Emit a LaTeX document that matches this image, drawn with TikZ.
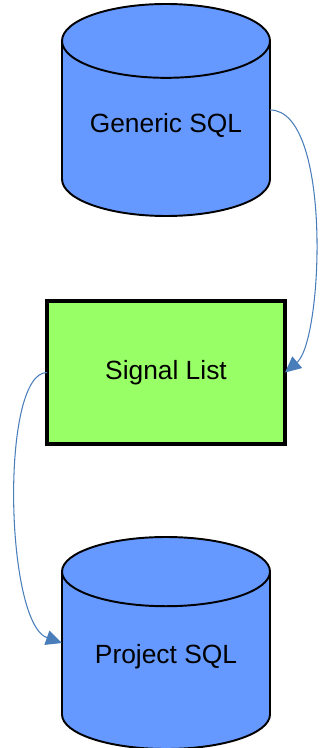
\documentclass[tikz,border=0pt]{standalone}
\usepackage{fontspec}
\setmainfont{Liberation Sans}
\usetikzlibrary{arrows.meta,positioning,shapes.geometric}
\definecolor{dbblue}{RGB}{102,153,255}
\definecolor{listgreen}{RGB}{153,255,102}
\definecolor{linkblue}{RGB}{74,126,187}

\begin{document}
\begin{tikzpicture}[
    node distance=1.7cm,
    every node/.style={font=\fontsize{15}{18}\selectfont},
    store/.style={cylinder, shape border rotate=90, aspect=0.45, draw, line width=1.1pt, fill=dbblue, minimum width=4.16cm, minimum height=4.24cm, text depth=0.5cm, outer sep=0pt},
    box/.style={draw, line width=1.8pt, fill=listgreen, minimum width=4.76cm, minimum height=2.86cm, outer sep=0pt},
    flow/.style={-{Triangle[length=0.32cm, width=0.3cm]}, linkblue, line width=0.6pt}
]
\useasboundingbox (0,0) rectangle (6.42,-14.96);
\node[store, anchor=shape center] (generic) at (3.32,-2.2) {Generic SQL};
\node[box, below=1.7cm of generic] (signal) {Signal List};
\node[store, below=1.86cm of signal] (project) {Project SQL};
\draw[flow] (generic.shape center -| generic.east) .. controls +(1.25,0) and +(0.76,0.64) .. (signal.east);
\draw[flow] (signal.west) .. controls +(-0.94,0) and +(-1.14,0.4) .. (project.shape center -| project.west);
\end{tikzpicture}
\end{document}
